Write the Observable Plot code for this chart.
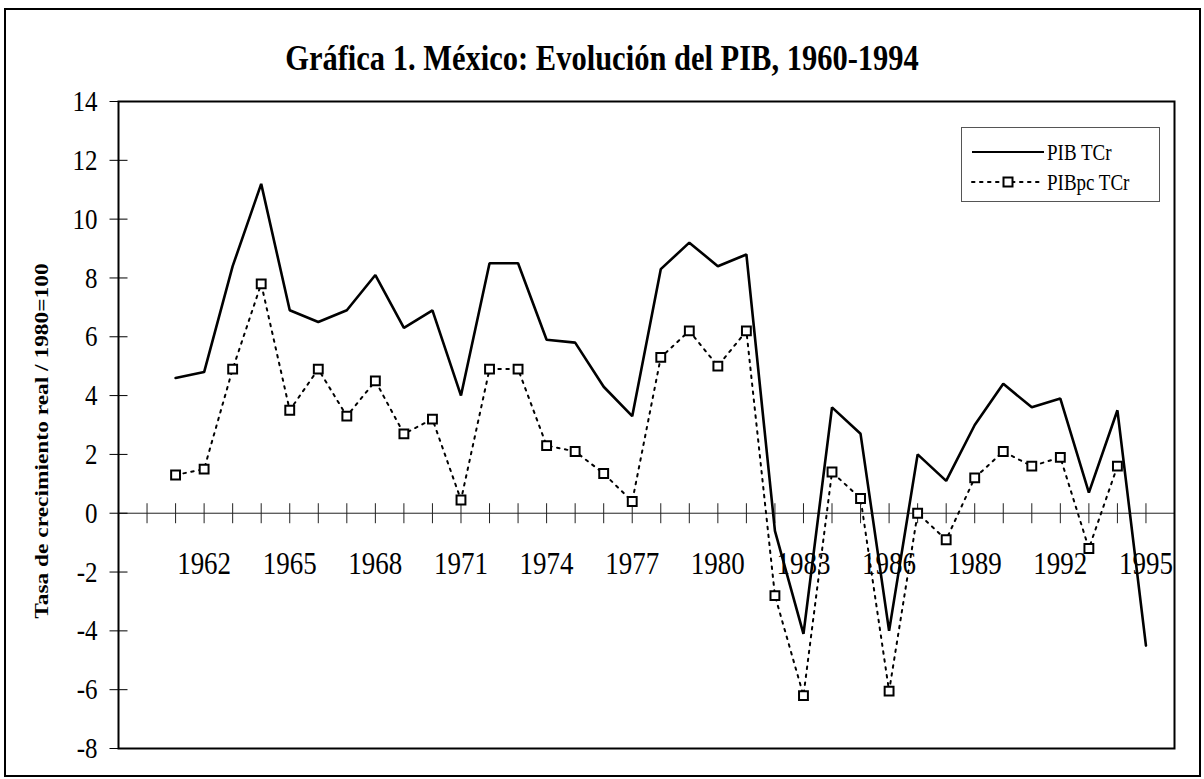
<!DOCTYPE html>
<html>
<head>
<meta charset="utf-8">
<script src="https://cdn.jsdelivr.net/npm/d3@7"></script>
<script src="https://cdn.jsdelivr.net/npm/@observablehq/plot@0.6"></script>
<style>
  html, body { margin: 0; padding: 0; background: #fff; }
  #wrap { position: relative; width: 1204px; height: 779px; font-family: "Liberation Serif", "Times New Roman", serif; }
  #border { position: absolute; left: 4px; top: 8px; width: 1193px; height: 765px; border: 2px solid #000; pointer-events: none; }
  #title { position: absolute; left: 0; width: 1204px; top: 40px; text-align: center; font-weight: bold; font-size: 30.5px; line-height: 36px; transform: scaleY(1.2); color: #000; }
  #ylab { position: absolute; left: 42px; top: 441px; width: 0; height: 0; }
  #ylab span { position: absolute; white-space: nowrap; font-weight: bold; font-size: 19.5px; transform: translate(-50%, -50%) rotate(-90deg) scaleX(1.2); left: 0; top: 0; }
  #legend { position: absolute; left: 961px; top: 127px; width: 197px; height: 73px; border: 1px solid #555; background: #fff; }
  #plot { position: absolute; left: 0; top: 0; }
  #plot svg text, #legend svg text { font-family: "Liberation Serif", "Times New Roman", serif; }
</style>
</head>
<body>
<div id="wrap">
  <div id="plot"></div>
  <div id="title">Gráfica 1. México: Evolución del PIB, 1960-1994</div>
  <div id="ylab"><span>Tasa de crecimiento real / 1980=100</span></div>
  <div id="legend"></div>
  <div id="border"></div>
</div>
<script>
// ---- data ----
const years = [1961, 1962, 1963, 1964, 1965, 1966, 1967, 1968, 1969, 1970,
               1971, 1972, 1973, 1974, 1975, 1976, 1977, 1978, 1979, 1980,
               1981, 1982, 1983, 1984, 1985, 1986, 1987, 1988, 1989, 1990,
               1991, 1992, 1993, 1994, 1995];
const pibTCr = [4.6, 4.8, 8.4, 11.2, 6.9, 6.5, 6.9, 8.1, 6.3, 6.9,
                4.0, 8.5, 8.5, 5.9, 5.8, 4.3, 3.3, 8.3, 9.2, 8.4,
                8.8, -0.6, -4.1, 3.6, 2.7, -4.0, 2.0, 1.1, 3.0, 4.4,
                3.6, 3.9, 0.7, 3.5, -4.5];
const pibpcTCr = [1.3, 1.5, 4.9, 7.8, 3.5, 4.9, 3.3, 4.5, 2.7, 3.2,
                  0.45, 4.9, 4.9, 2.3, 2.1, 1.35, 0.4, 5.3, 6.2, 5.0,
                  6.2, -2.8, -6.2, 1.4, 0.5, -6.05, 0.0, -0.9, 1.2, 2.1,
                  1.6, 1.9, -1.2, 1.6, null];
const seriesNames = ["PIB TCr", "PIBpc TCr"];
const yTicks = [14, 12, 10, 8, 6, 4, 2, 0, -2, -4, -6, -8];
const xTickYears = [1960, 1961, 1962, 1963, 1964, 1965, 1966, 1967, 1968, 1969,
                    1970, 1971, 1972, 1973, 1974, 1975, 1976, 1977, 1978, 1979,
                    1980, 1981, 1982, 1983, 1984, 1985, 1986, 1987, 1988, 1989,
                    1990, 1991, 1992, 1993, 1994, 1995];
const xLabels = [1962, 1965, 1968, 1971, 1974, 1977, 1980, 1983, 1986, 1989, 1992, 1995];

// ---- tables ----
const pibData = years.map((yr, i) => ({year: yr, v: pibTCr[i]}));
const pcData = years.map((yr, i) => ({year: yr, v: pibpcTCr[i]}));
const pcPoints = pcData.filter(d => d.v != null);

const vTick = {draw(ctx) { ctx.moveTo(0, -10); ctx.lineTo(0, 10); }};
const hTick = {draw(ctx) { ctx.moveTo(-9, 0); ctx.lineTo(9, 0); }};

const font = "Liberation Serif, Times New Roman, serif";

const chart = Plot.plot({
  width: 1204,
  height: 779,
  marginLeft: 118,
  marginRight: 30,
  marginTop: 101,
  marginBottom: 31,
  style: {fontFamily: font, background: "transparent", color: "#000"},
  x: {type: "linear", domain: [1959, 1996], axis: null},
  y: {domain: [-8, 14], axis: null},
  marks: [
    Plot.ruleY([0], {stroke: "#222", strokeWidth: 1}),
    Plot.dot(xTickYears, {x: d => d, y: 0, symbol: vTick, stroke: "#222", fill: "none", strokeWidth: 1}),
    Plot.dot(yTicks, {y: d => d, frameAnchor: "left", symbol: hTick, stroke: "#000", fill: "none", strokeWidth: 1}),
    Plot.text(yTicks, {y: d => d, frameAnchor: "left", dx: -21, textAnchor: "end", text: d => String(d), fontSize: 25, fontFamily: font, fill: "#000"}),
    Plot.text(xLabels, {x: d => d, y: 0, dy: 50, text: d => String(d), fontSize: 27, fontFamily: font, fill: "#000"}),
    Plot.line(pcData, {x: "year", y: "v", stroke: "#000", strokeWidth: 2, strokeDasharray: "2.5,5.5", strokeLinecap: "round"}),
    Plot.line(pibData, {x: "year", y: "v", stroke: "#000", strokeWidth: 2.6, strokeLinejoin: "miter"}),
    Plot.dot(pcPoints, {x: "year", y: "v", symbol: "square", r: 5, stroke: "#000", fill: "#fff", strokeWidth: 2}),
    Plot.frame({stroke: "#000", strokeWidth: 2})
  ]
});

// stretch text vertically like the scanned original
chart.querySelectorAll("text").forEach(t => {
  const tr = t.getAttribute("transform");
  if (tr) {
    t.setAttribute("transform", tr + " scale(1,1.2)");
  } else {
    const x = t.getAttribute("x") || 0, y = t.getAttribute("y") || 0;
    t.removeAttribute("x"); t.removeAttribute("y");
    t.setAttribute("transform", `translate(${x},${y}) scale(1,1.2)`);
  }
});
document.getElementById("plot").appendChild(chart);

// ---- legend ----
const lg = d3.select("#legend").append("svg").attr("width", 197).attr("height", 73);
const rows = [{y: 24, name: seriesNames[0], dashed: false}, {y: 54, name: seriesNames[1], dashed: true}];
rows.forEach(r => {
  const ln = lg.append("line").attr("x1", 10).attr("x2", 82).attr("y1", r.y).attr("y2", r.y)
    .attr("stroke", "#000").attr("stroke-width", r.dashed ? 2 : 2.2);
  if (r.dashed) {
    ln.attr("stroke-dasharray", "2.5,5.5").attr("stroke-linecap", "round");
    lg.append("rect").attr("x", 41.5).attr("y", r.y - 4.5).attr("width", 9).attr("height", 9)
      .attr("fill", "#fff").attr("stroke", "#000").attr("stroke-width", 2);
  }
  lg.append("text").attr("transform", `translate(85,${r.y}) scale(1,1.2)`).attr("dy", "0.35em")
    .attr("font-size", 19).attr("fill", "#000").text(r.name);
});
</script>
</body>
</html>
